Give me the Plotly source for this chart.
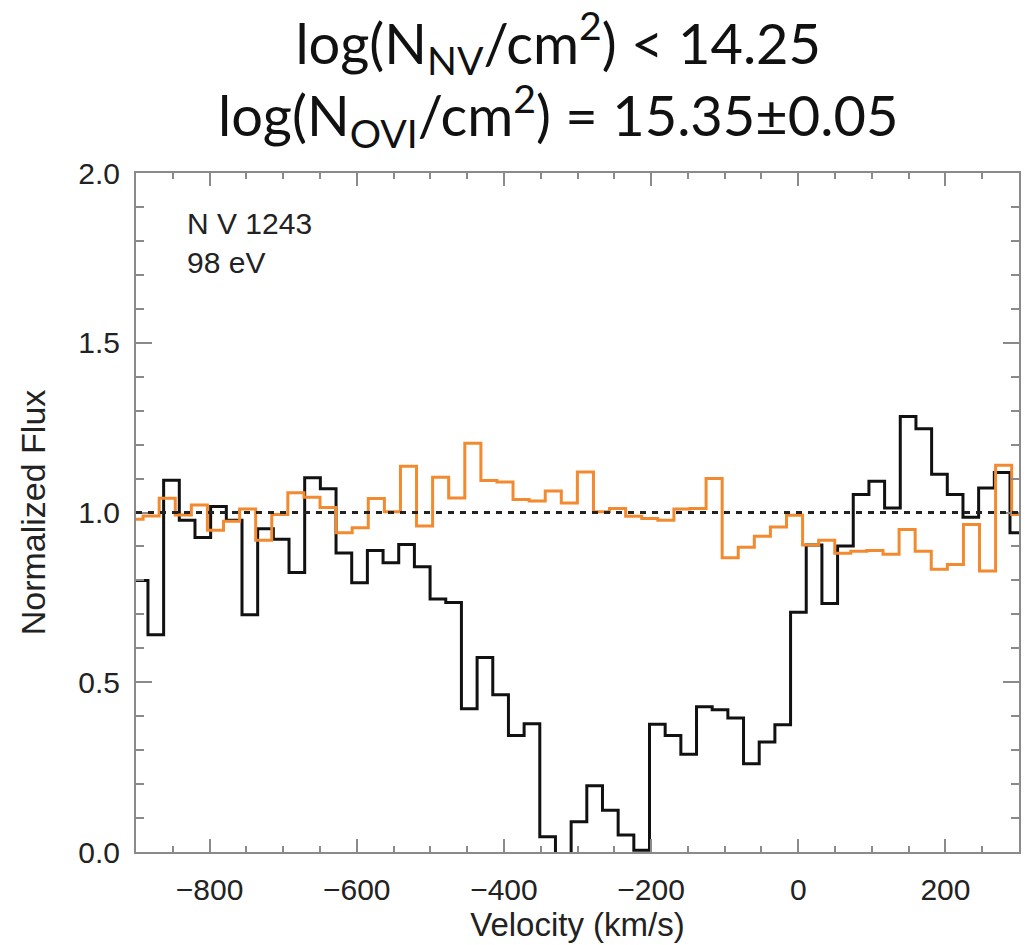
import numpy as np
import plotly.graph_objects as go

# N V 1243 spectrum: velocity bin centres (km/s) and normalized flux
nv_velocity = [
    -894.4, -873.1, -851.8, -830.5, -809.2, -787.9, -766.6, -745.3, -724.0, -702.7,
    -681.4, -660.1, -638.8, -617.5, -596.2, -574.9, -553.6, -532.3, -511.0, -489.7,
    -468.4, -447.1, -425.8, -404.5, -383.2, -361.9, -340.6, -319.3, -298.0, -276.7,
    -255.4, -234.1, -212.8, -191.5, -170.2, -148.9, -127.6, -106.3, -85.0, -63.7,
    -42.4, -21.1, 0.2, 21.5, 42.8, 64.1, 85.4, 106.7, 128.0, 149.3,
    170.6, 191.9, 213.2, 234.5, 255.8, 277.1, 298.4,
]
nv_flux = [
    0.800, 0.640, 1.095, 0.977, 0.926, 1.018, 0.977, 0.699, 0.952, 0.921,
    0.823, 1.102, 1.070, 0.881, 0.793, 0.888, 0.852, 0.906, 0.840, 0.745,
    0.735, 0.422, 0.573, 0.463, 0.343, 0.378, 0.045, -0.050, 0.089, 0.195,
    0.123, 0.050, 0.005, 0.376, 0.343, 0.288, 0.428, 0.419, 0.395, 0.260,
    0.324, 0.375, 0.706, 0.904, 0.732, 0.901, 1.053, 1.092, 1.013, 1.283,
    1.247, 1.113, 1.053, 0.986, 1.072, 1.118, 0.940,
]

# O VI comparison spectrum on its own velocity grid
ovi_velocity = [
    -901.3, -879.4, -857.6, -835.7, -813.9, -792.0, -770.1, -748.3, -726.4, -704.6,
    -682.7, -660.8, -639.0, -617.1, -595.3, -573.4, -551.5, -529.7, -507.8, -486.0,
    -464.1, -442.2, -420.4, -398.5, -376.7, -354.8, -332.9, -311.1, -289.2, -267.4,
    -245.5, -223.6, -201.8, -179.9, -158.1, -136.2, -114.3, -92.5, -70.6, -48.8,
    -26.9, -5.0, 16.8, 38.7, 60.5, 82.4, 104.3, 126.1, 148.0, 169.8,
    191.7, 213.6, 235.4, 257.3, 279.1, 301.0,
]
ovi_flux = [
    0.980, 0.990, 1.042, 0.993, 1.022, 0.948, 0.974, 1.010, 0.918, 0.994,
    1.058, 1.045, 1.015, 0.940, 0.955, 1.041, 1.002, 1.136, 0.960, 1.104,
    1.043, 1.204, 1.094, 1.090, 1.038, 1.034, 1.063, 1.028, 1.119, 1.002,
    1.012, 0.989, 0.982, 0.977, 1.010, 1.012, 1.100, 0.867, 0.898, 0.930,
    0.957, 0.992, 0.904, 0.918, 0.880, 0.886, 0.888, 0.877, 0.950, 0.886,
    0.833, 0.847, 0.965, 0.828, 1.139, 0.994,
]

continuum = 1.0
x_range = [-900, 300]
y_range = [0.0, 2.0]

title_lines = [
    "log(N<sub>NV</sub>/cm<sup>2</sup>) < 14.25",
    "log(N<sub>OVI</sub>/cm<sup>2</sup>) = 15.35±0.05",
]


def histogram_steps(centres, values):
    """Turn bin centres/values into left-edge steps for an 'hv' line."""
    c = np.asarray(centres, dtype=float)
    v = np.asarray(values, dtype=float)
    mids = (c[1:] + c[:-1]) / 2.0
    edges = np.concatenate([[c[0] - (mids[0] - c[0])], mids, [c[-1] + (c[-1] - mids[-1])]])
    return edges, np.append(v, v[-1])


nv_x, nv_y = histogram_steps(nv_velocity, nv_flux)
ovi_x, ovi_y = histogram_steps(ovi_velocity, ovi_flux)

fig = go.Figure()
fig.add_trace(go.Scatter(x=nv_x, y=nv_y, mode="lines", line_shape="hv",
                         line=dict(color="#111111", width=3), showlegend=False))
fig.add_trace(go.Scatter(x=ovi_x, y=ovi_y, mode="lines", line_shape="hv",
                         line=dict(color="#F28A30", width=3), showlegend=False))
fig.add_hline(y=continuum, line=dict(color="#222222", width=3, dash="6px,6px"))

axis_col = "#8a8a8a"
sans = "Liberation Sans, Arial, sans-serif"
tick_font = dict(family=sans, size=30, color="#222222")

fig.update_xaxes(
    range=x_range, dtick=200, tick0=0,
    showline=True, linecolor=axis_col, linewidth=2, mirror="allticks",
    ticks="inside", ticklen=13, tickwidth=1.5, tickcolor=axis_col,
    minor=dict(dtick=50, ticks="inside", ticklen=6, tickwidth=1.5, tickcolor=axis_col),
    showgrid=False, zeroline=False, tickfont=tick_font, ticklabelstandoff=10,
    title=dict(text="Velocity (km/s)", standoff=4,
               font=dict(family=sans, size=33, color="#222222")),
)
fig.update_yaxes(
    range=y_range, dtick=0.5, tick0=0, tickformat=".1f",
    showline=True, linecolor=axis_col, linewidth=2, mirror="allticks",
    ticks="inside", ticklen=16, tickwidth=1.5, tickcolor=axis_col,
    minor=dict(dtick=0.1, ticks="inside", ticklen=8, tickwidth=1.5, tickcolor=axis_col),
    showgrid=False, zeroline=False, tickfont=tick_font, ticklabelstandoff=8,
    title=dict(text="Normalized Flux", standoff=22,
               font=dict(family=sans, size=34, color="#222222")),
)

fig.add_annotation(
    x=-834, y=1.905, xref="x", yref="y", xanchor="left", yanchor="top",
    text="N V 1243<br>98 eV", showarrow=False, align="left",
    font=dict(family=sans, size=30, color="#222222"),
)

# two-line column-density title above the panel
fig.add_annotation(
    x=0.478, y=1.0, xref="paper", yref="paper", yshift=95, xanchor="center", yanchor="middle",
    text="<br>".join(title_lines), showarrow=False, align="center",
    font=dict(family="Lato, Open Sans, sans-serif", size=56, color="#111111"),
)

fig.update_layout(
    width=1034, height=945,
    margin=dict(l=136, r=15, t=173, b=93, autoexpand=False),
    plot_bgcolor="white", paper_bgcolor="white",
)

fig.write_html("out.html")
